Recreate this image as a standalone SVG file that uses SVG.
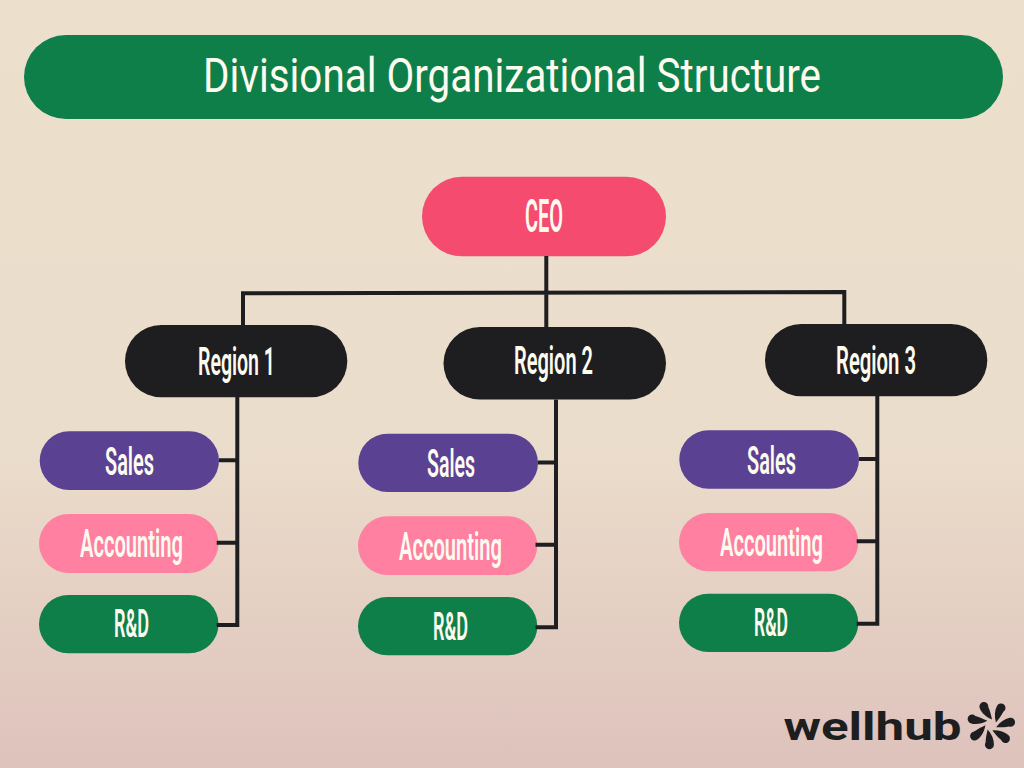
<svg xmlns="http://www.w3.org/2000/svg" width="1024" height="768" viewBox="0 0 1024 768">
<defs>
<linearGradient id="bg" x1="0" y1="0" x2="0" y2="1"><stop offset="0" stop-color="#ecdfcc"/><stop offset="0.58" stop-color="#ebddcb"/><stop offset="1" stop-color="#dec2bc"/></linearGradient>
<path id="petal" d="M2.500 -5C2.800 -9.500 3 -13 2.400 -18A4.500 4.500 0 1 0 -6.200 -19C-5.500 -14 -2.500 -9 2.500 -5Z"/>
</defs>
<style>
text{font-family:Roboto,"Liberation Sans",sans-serif;fill:#fdfbef;text-anchor:middle}
.l{font-weight:600;font-size:38px}
.w{fill:none;stroke:#1e1e20;stroke-width:4}
.s{fill:#5a4192}.a{fill:#ff80a1}.r{fill:#0f7f4a}.k{fill:#1e1e20}
</style>
<rect width="1024" height="768" fill="url(#bg)"/>
<g id="title"><rect class="r" x="24" y="35" width="979" height="84" rx="42"/><text x="512" y="92" style="font-size:49px" textLength="618" lengthAdjust="spacingAndGlyphs">Divisional Organizational Structure</text></g>
<g id="ceo"><rect x="422" y="176.700" width="244" height="79.600" rx="39.800" fill="#f44b6e"/><text class="l" x="544" y="232" style="font-size:46px" textLength="38" lengthAdjust="spacingAndGlyphs">CEO</text></g>
<g id="region1"><rect class="k" x="125" y="325" width="222.300" height="72.300" rx="36.100"/><text class="l" x="236.500" y="374.500" textLength="77" lengthAdjust="spacingAndGlyphs">Region 1</text></g>
<g id="region2"><rect class="k" x="443.500" y="327" width="222.500" height="72.600" rx="36.300"/><text class="l" x="553.500" y="374" textLength="79" lengthAdjust="spacingAndGlyphs">Region 2</text></g>
<g id="region3"><rect class="k" x="765" y="324" width="222.300" height="72.300" rx="36.100"/><text class="l" x="876" y="373.500" textLength="80" lengthAdjust="spacingAndGlyphs">Region 3</text></g>
<g id="sales1"><rect class="s" x="39.700" y="431.300" width="179.300" height="58.700" rx="29.300"/><text class="l" x="129.500" y="475" textLength="49" lengthAdjust="spacingAndGlyphs">Sales</text></g>
<g id="accounting1"><rect class="a" x="39" y="514" width="179.500" height="59" rx="29.500"/><text class="l" x="131.500" y="557" textLength="103" lengthAdjust="spacingAndGlyphs">Accounting</text></g>
<g id="rd1"><rect class="r" x="39" y="595" width="179.500" height="58.300" rx="29.100"/><text class="l" x="131.500" y="637" textLength="35" lengthAdjust="spacingAndGlyphs">R&amp;D</text></g>
<g id="sales2"><rect class="s" x="358.300" y="433.700" width="179.700" height="58.300" rx="29.100"/><text class="l" x="451" y="477" textLength="48" lengthAdjust="spacingAndGlyphs">Sales</text></g>
<g id="accounting2"><rect class="a" x="358" y="516.300" width="179.300" height="58.700" rx="29.300"/><text class="l" x="450.500" y="560" textLength="103" lengthAdjust="spacingAndGlyphs">Accounting</text></g>
<g id="rd2"><rect class="r" x="358" y="597" width="179.300" height="58.300" rx="29.100"/><text class="l" x="450.500" y="640" textLength="35" lengthAdjust="spacingAndGlyphs">R&amp;D</text></g>
<g id="sales3"><rect class="s" x="679.300" y="430.300" width="179.700" height="58.400" rx="29.200"/><text class="l" x="771.500" y="474" textLength="49" lengthAdjust="spacingAndGlyphs">Sales</text></g>
<g id="accounting3"><rect class="a" x="679" y="513" width="179.300" height="58.300" rx="29.100"/><text class="l" x="771.500" y="556" textLength="103" lengthAdjust="spacingAndGlyphs">Accounting</text></g>
<g id="rd3"><rect class="r" x="679" y="593.700" width="179.300" height="58.300" rx="29.100"/><text class="l" x="771" y="636" textLength="34" lengthAdjust="spacingAndGlyphs">R&amp;D</text></g>
<g id="connectors">
<path class="w" d="M546.300 256V327M243 325V293.300L844.300 292V324"/>
<path class="w" d="M237.300 397V625H216.700M237.300 460.300H219M237.300 542.700H216.700"/>
<path class="w" d="M556 399.500V627.300H535.500M556 462.500H538M556 544.700H535.500"/>
<path class="w" d="M877.300 396V623.700H856.700M877.300 459H859M877.300 541.300H856.700"/>
</g>
<g id="logo"><text x="872.500" y="740" style="font-weight:700;font-size:39px;fill:#1e1e20" textLength="178" lengthAdjust="spacingAndGlyphs">wellhub</text>
<g fill="#1e1e20" transform="translate(991 725) rotate(-16)"><use href="#petal"/><use href="#petal" transform="rotate(51.430)"/><use href="#petal" transform="rotate(102.860)"/><use href="#petal" transform="rotate(154.290)"/><use href="#petal" transform="rotate(205.710)"/><use href="#petal" transform="rotate(257.140)"/><use href="#petal" transform="rotate(308.570)"/></g></g>
</svg>
